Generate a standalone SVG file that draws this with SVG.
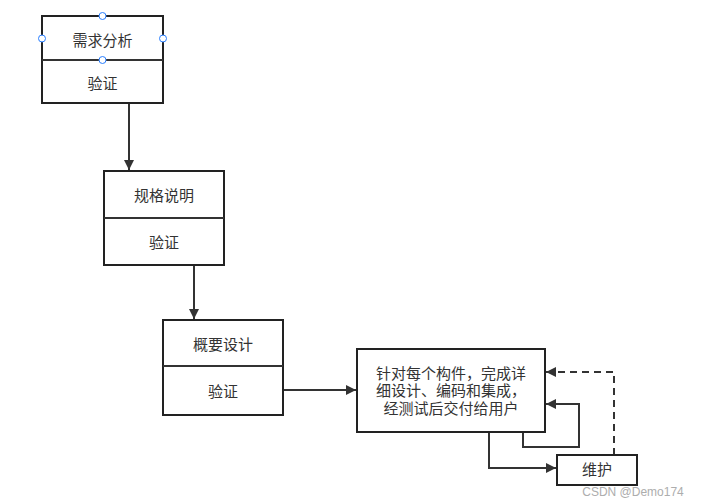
<svg xmlns="http://www.w3.org/2000/svg" width="702" height="504" viewBox="0 0 702 504">
<defs>
<marker id="ah" viewBox="0 0 10 10" refX="10" refY="5" markerWidth="10" markerHeight="10" markerUnits="userSpaceOnUse" orient="auto">
<path d="M0,0 L10,5 L0,10 Z" fill="#333"/>
</marker>
</defs>
<style>
.box{fill:#fff;stroke:#222;stroke-width:2}
.t{font-family:"Liberation Sans","Noto Sans CJK SC",sans-serif;font-size:15px;fill:#333;text-anchor:middle;dominant-baseline:central}
.c{fill:none;stroke:#333;stroke-width:2}
.d{fill:none;stroke:#333;stroke-width:2;stroke-dasharray:7,5}
.h{fill:#fff;stroke:#2a7fff;stroke-width:1}
</style>
<rect width="702" height="504" fill="#fff"/>
<g id="connectors">
<path class="c" d="M129,103 V170" marker-end="url(#ah)"/>
<path class="c" d="M194,265 V319" marker-end="url(#ah)"/>
<path class="c" d="M283,390 H356" marker-end="url(#ah)"/>
<path class="c" d="M489,432 V468 H556" marker-end="url(#ah)"/>
<path class="c" d="M523,432 V447 H579 V404 H546" marker-end="url(#ah)"/>
<path class="d" d="M614,455 V372 H546" marker-end="url(#ah)"/>
</g>
<g id="node1">
<rect class="box" x="42" y="16" width="121" height="87"/>
<line class="c" x1="42" y1="60" x2="163" y2="60"/>
<text class="t" x="102.5" y="40">需求分析</text>
<text class="t" x="102.5" y="83">验证</text>
<circle class="h" cx="102.5" cy="16" r="3.5"/>
<circle class="h" cx="42" cy="38.5" r="3.5"/>
<circle class="h" cx="163" cy="38.5" r="3.5"/>
<circle class="h" cx="102.5" cy="60" r="3.5"/>
</g>
<g id="node2">
<rect class="box" x="104" y="171" width="120" height="94"/>
<line class="c" x1="104" y1="218" x2="224" y2="218"/>
<text class="t" x="164" y="195">规格说明</text>
<text class="t" x="164" y="242">验证</text>
</g>
<g id="node3">
<rect class="box" x="163" y="320" width="120" height="95"/>
<line class="c" x1="163" y1="366" x2="283" y2="366"/>
<text class="t" x="223" y="344">概要设计</text>
<text class="t" x="223" y="391">验证</text>
</g>
<g id="node4">
<rect class="box" x="357" y="349" width="188" height="83"/>
<text class="t" x="451" y="373">针对每个构件，完成详</text>
<text class="t" x="451" y="390.5">细设计、编码和集成，</text>
<text class="t" x="451" y="408">经测试后交付给用户</text>
</g>
<g id="node5">
<rect class="box" x="557" y="455" width="80" height="30"/>
<text class="t" x="597" y="469">维护</text>
</g>
<text x="633" y="492" font-family="Liberation Sans,Arial,sans-serif" font-size="12" fill="#999" text-anchor="middle" dominant-baseline="central" opacity="0.8">CSDN @Demo174</text>
</svg>
